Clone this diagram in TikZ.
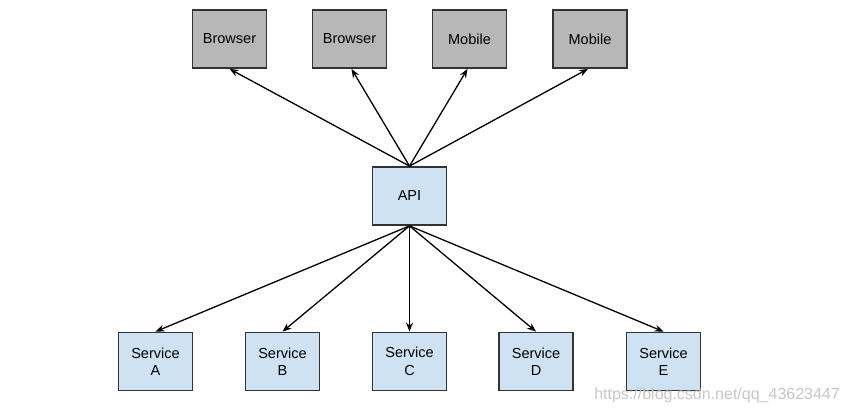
\documentclass[tikz,border=0pt]{standalone}
\usepackage{fontspec}
\setmainfont{Liberation Sans}
\usetikzlibrary{arrows.meta}
\definecolor{grayfill}{HTML}{B7B7B7}
\definecolor{bluefill}{HTML}{CFE2F3}
\definecolor{edge}{HTML}{333333}
\begin{document}
\begin{tikzpicture}[x=1pt,y=-1pt,
  box/.style={draw=edge,line width=1.8pt,minimum width=74pt,minimum height=58pt,inner sep=0pt,align=center,font=\fontsize{14.5}{17.5}\selectfont},
  client/.style={box,fill=grayfill},
  svc/.style={box,fill=bluefill},
  link/.style={line width=1.3pt,-{Stealth[length=9pt,width=7pt]}}]
\useasboundingbox (0,0) rectangle (849,413);
\node[client] (b1) at (229.5,39) {Browser};
\node[client] (b2) at (349.5,39) {Browser};
\node[client] (m1) at (469.5,39) {Mobile};
\node[client] (m2) at (590,39) {Mobile};
\node[svc] (api) at (409.5,196) {API};
\node[svc] (sa) at (155.5,361.5) {Service\\A};
\node[svc] (sb) at (282.5,361.5) {Service\\B};
\node[svc] (sc) at (409.5,361.5) {Service\\C};
\node[svc] (sd) at (536,361.5) {Service\\D};
\node[svc] (se) at (663.5,361.5) {Service\\E};
\draw[link] (api.north) -- (b1.south);
\draw[link] (api.north) -- ([xshift=2pt]b2.south);
\draw[link] (api.north) -- ([xshift=-2pt]m1.south);
\draw[link] (api.north) -- ([xshift=-2pt]m2.south);
\draw[link] (api.south) -- (sa.north);
\draw[link] (api.south) -- (sb.north);
\draw[link] (api.south) -- (sc.north);
\draw[link] (api.south) -- (sd.north);
\draw[link] (api.south) -- (se.north);
\node[anchor=east,text=black!22,font=\fontsize{16}{18}\selectfont,inner sep=0pt] (wm) at (840,395) {https://blog.csdn.net/qq\_43623447};
\end{tikzpicture}
\end{document}
